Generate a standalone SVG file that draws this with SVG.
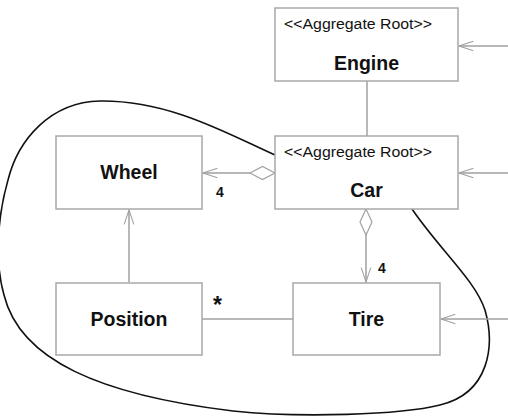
<svg xmlns="http://www.w3.org/2000/svg" width="508" height="417" viewBox="0 0 508 417">
<defs>
<style>
.box{fill:#fff;stroke:#a8a8a8;stroke-width:1.5}
.ln{fill:none;stroke:#a0a0a0;stroke-width:1.5}
.dia{fill:#fff;stroke:#a0a0a0;stroke-width:1.2}
.st{font-family:"Liberation Sans",Arial,sans-serif;font-size:14px;fill:#111}
.nm{font-family:"Liberation Sans",Arial,sans-serif;font-size:19.5px;font-weight:bold;fill:#111;text-anchor:middle}
.lb{font-family:"Liberation Sans",Arial,sans-serif;font-size:14px;font-weight:bold;fill:#111}
</style>
<marker id="open" viewBox="0 0 20 14" refX="19" refY="7" markerWidth="16" markerHeight="12" markerUnits="userSpaceOnUse" orient="auto">
<path d="M1,1 L19,7 L1,13" fill="none" stroke="#a0a0a0" stroke-width="1.3"/>
</marker>
</defs>
<path id="boundary" d="M 275,155 C 230,135 170,100 100,101 C 50,102 18,140 8,180 C -2,215 -6,260 4,295 C 20,360 100,395 233,411 C 300,418 400,415 440,405 C 490,393 495,345 485,310 C 475,280 440,250 412,209" fill="none" stroke="#111" stroke-width="1.6"/>
<g id="connectors">
<line class="ln" x1="508" y1="46" x2="459" y2="46" marker-end="url(#open)"/>
<line class="ln" x1="508" y1="173" x2="459" y2="173" marker-end="url(#open)"/>
<line class="ln" x1="508" y1="319" x2="441" y2="319" marker-end="url(#open)"/>
<line class="ln" x1="367" y1="81" x2="367" y2="136"/>
<line class="ln" x1="250" y1="173" x2="203" y2="173" marker-end="url(#open)"/>
<path class="dia" d="M275,173 L262.5,166.5 L250,173 L262.5,179.5 Z"/>
<line class="ln" x1="366" y1="235" x2="366" y2="282" marker-end="url(#open)"/>
<path class="dia" d="M366,209 L372,222 L366,235 L360,222 Z"/>
<line class="ln" x1="129" y1="282" x2="129" y2="210" marker-end="url(#open)"/>
<line class="ln" x1="202" y1="319" x2="293" y2="319"/>
<text class="lb" x="216" y="197">4</text>
<text class="lb" x="378" y="273">4</text>
<text class="lb" x="213" y="313" style="font-size:23px">*</text>
</g>
<g id="engine">
<rect class="box" x="275" y="8" width="183" height="73"/>
<text class="st" x="284" y="29" textLength="148" lengthAdjust="spacingAndGlyphs">&lt;&lt;Aggregate Root&gt;&gt;</text>
<text class="nm" x="366.5" y="70">Engine</text>
</g>
<g id="car">
<rect class="box" x="275" y="136" width="183" height="73"/>
<text class="st" x="284" y="157" textLength="148" lengthAdjust="spacingAndGlyphs">&lt;&lt;Aggregate Root&gt;&gt;</text>
<text class="nm" x="366.5" y="197">Car</text>
</g>
<g id="wheel">
<rect class="box" x="56" y="136" width="146" height="73"/>
<text class="nm" x="129" y="179">Wheel</text>
</g>
<g id="position">
<rect class="box" x="56" y="283" width="146" height="72"/>
<text class="nm" x="129" y="326">Position</text>
</g>
<g id="tire">
<rect class="box" x="293" y="283" width="147" height="72"/>
<text class="nm" x="366.5" y="326">Tire</text>
</g>
</svg>
